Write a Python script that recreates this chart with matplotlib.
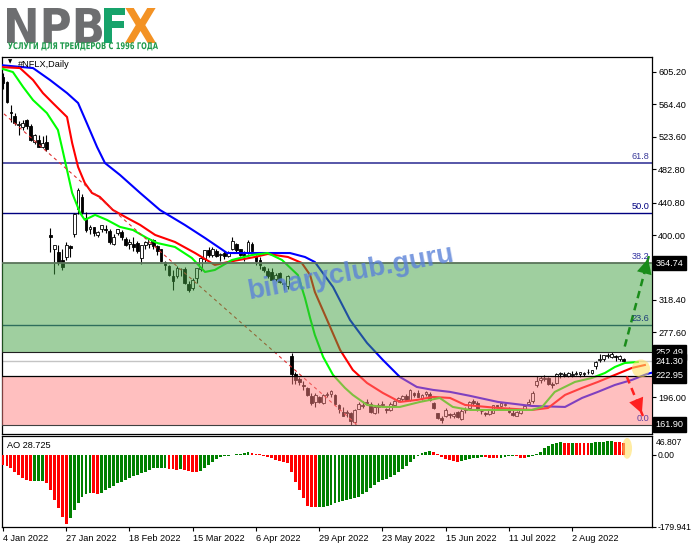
import numpy as np
import matplotlib
matplotlib.use("Agg")
import matplotlib.pyplot as plt
from matplotlib.patches import Ellipse, PathPatch, FancyArrowPatch
from matplotlib.textpath import TextPath
from matplotlib.font_manager import FontProperties
from matplotlib.transforms import Affine2D

W, H = 691, 549

# ---- data -------------------------------------------------------------
date_labels = ['4 Jan 2022', '27 Jan 2022', '18 Feb 2022', '15 Mar 2022', '6 Apr 2022',
               '29 Apr 2022', '23 May 2022', '15 Jun 2022', '11 Jul 2022', '2 Aug 2022']
date_pos = [0, 16, 32, 48, 64, 80, 96, 112, 128, 144]

opens = [599, 592, 555, 549, 538, 536, 544, 537, 517, 520, 511, 517, 400, 383, 379, 369, 372, 386, 401,
         433, 448, 421, 407, 410, 400, 408, 407, 405, 389, 402, 404, 395, 389, 389, 390, 371, 387, 389,
         394, 386, 382, 366, 361, 348, 349, 357, 357, 339, 334, 346, 357, 370, 381, 375, 380, 375, 377, 374, 382, 389, 382,
         376, 377, 389, 374, 369, 360, 355, 353, 345, 352, 340, 336, 248, 225, 219, 212, 208, 198, 190, 197,
         189, 199, 200, 199, 187, 178, 176, 176, 165, 182, 185, 189, 188, 176, 184, 187, 182, 180, 187, 193, 194,
         198, 193, 201, 202, 195, 200, 200, 189, 176, 170, 172, 175, 173, 178, 169, 180, 183, 191, 189, 179, 176,
         175, 177, 186, 185, 187, 183, 177, 173, 177, 182, 188, 191, 211, 218, 219, 220, 213, 214, 225, 224,
         223, 224, 226, 226, 225, 228, 227, 235, 243, 244, 248, 247, 247, 244, 244]
highs = [604, 593, 563, 553, 543, 544, 546, 539, 527, 526, 524, 526, 409, 387, 387, 382, 391, 388, 428,
         459, 452, 429, 412, 410, 405, 413, 413, 408, 401, 408, 406, 397, 395, 398, 392, 388, 392, 396,
         395, 388, 382, 368, 362, 356, 361, 359, 360, 342, 346, 359, 372, 381, 385, 385, 383, 378, 380, 380, 397, 390, 383,
         380, 394, 391, 375, 372, 361, 358, 358, 352, 353, 341, 350, 252, 228, 222, 216, 209, 202, 201, 198,
         200, 203, 205, 200, 188, 184, 180, 178, 181, 190, 191, 194, 190, 187, 189, 191, 183, 190, 193, 196, 199,
         200, 206, 203, 205, 200, 204, 203, 190, 177, 172, 183, 177, 178, 179, 181, 184, 191, 194, 192, 181, 178,
         181, 186, 187, 190, 190, 184, 180, 179, 182, 186, 194, 204, 223, 223, 224, 221, 215, 227, 228, 228,
         228, 229, 229, 228, 228, 232, 231, 242, 251, 249, 252, 253, 249, 249, 245]
lows = [583, 566, 542, 538, 526, 532, 533, 518, 514, 510, 509, 505, 379, 351, 362, 356, 369, 372, 398,
        426, 426, 404, 401, 399, 397, 404, 403, 389, 388, 400, 394, 386, 383, 380, 377, 363, 382, 384,
        383, 375, 366, 356, 349, 331, 346, 348, 339, 329, 331, 340, 355, 366, 372, 373, 372, 367, 370, 372, 381, 379, 374,
        368, 376, 379, 362, 357, 354, 346, 343, 342, 340, 331, 332, 213, 213, 212, 205, 198, 186, 184, 189,
        188, 196, 196, 186, 177, 172, 171, 161.9, 163, 181, 183, 186, 176, 175, 177, 184, 176, 179, 185, 190, 191,
        191, 192, 196, 196, 193, 198, 192, 182, 169, 164, 171, 170, 170, 170, 168, 176, 182, 187, 179, 175, 172,
        174, 176, 181, 184, 185, 176, 173, 172, 175, 180, 186, 189, 209, 214, 216, 212, 208, 213, 220, 221,
        221, 222, 224, 222, 223, 225, 225, 232, 240, 242, 245, 245, 242, 242, 239]
closes = [591, 567.5, 553, 541, 540, 541, 537, 519, 526, 511, 516, 508, 397.5, 387, 366, 360, 387, 384, 427,
          457, 429, 406, 410, 402, 403.5, 413, 406, 391, 397, 407.5, 398, 387, 391, 385, 380, 387, 391, 394.5,
          386, 380, 368, 362, 350, 342, 359, 357, 340, 331, 344, 358, 371, 381, 375, 383, 374, 376, 374, 378.5, 392, 381.5, 375,
          373.5, 391.5, 380, 368, 362, 356, 348, 344, 350, 341, 338, 348.6, 226, 218, 215.5, 210, 198.4, 188.5, 199.5, 190.4,
          199.5, 200, 204, 188, 181, 173, 177.5, 166.4, 180, 187.6, 186.5, 190.6, 177.2, 183.5, 186.4, 187.4, 180.3, 187.8, 191.4, 195.2, 197.4,
          192.9, 205, 199, 197, 198.6, 202.8, 192.8, 183, 169.7, 167.5, 180, 173.4, 175.5, 170.9, 178.9, 181.7, 190.8, 189.1, 179.6, 178.4, 174.9,
          180, 185.9, 184, 189.3, 187, 177.5, 174.5, 178.2, 181, 185.6, 190.4, 201.6, 216.4, 220.4, 219.2, 213.4, 211.4, 226, 226.5, 224.9,
          226.2, 224.8, 226.8, 227.5, 226.7, 227.3, 230, 241, 243, 249.3, 248.7, 250, 246.8, 247.6, 241.3]

# alligator lines (bar index, price)
jaw_x = [-0.8, 7.6, 11.9, 16.2, 19.0, 21.2, 23.8, 25.8, 29.6, 34.7, 39.7, 46.0, 51.1, 56.7, 63.7, 72.6,
         76.4, 78.9, 83.5, 87.8, 92.1, 96.1, 100.4, 104.7, 108.8, 113.1, 118.1, 125.2, 133.8, 142.2,
         146.5, 150.5, 154.8, 159.1, 162.9, 165.0]
jaw_y = [613.6, 609.8, 594.8, 578.4, 565.9, 540.7, 510.6, 490.5, 475.5, 452.9, 431.5, 412.7, 396.3, 377.4, 377.4, 377.4,
         372.4, 366.1, 334.7, 293.3, 264.4, 243.1, 221.7, 209.1, 205.4, 202.9, 198.0, 190.3, 185.2, 184.0,
         195.3, 202.9, 211.6, 217.9, 225.4, 228.0]
teeth_x = [-0.8, 4.3, 7.6, 10.1, 12.6, 16.2, 17.5, 19.0, 20.7, 22.5, 24.5, 27.8, 31.4, 34.7, 38.5, 43.5,
           48.6, 53.6, 56.9, 63.7, 67.0, 72.1, 75.6, 77.7, 78.9, 82.0, 85.3, 88.5, 92.1, 96.1, 100.4,
           104.7, 108.8, 113.1, 116.9, 125.2, 133.8, 137.9, 142.2, 146.5, 150.5, 154.8, 159.1, 162.4]
teeth_y = [611.1, 609.8, 594.8, 578.4, 565.9, 548.3, 515.6, 485.5, 465.4, 452.9, 447.9, 431.5, 421.5, 412.7, 400.1, 391.3,
           377.4, 362.4, 366.1, 372.4, 376.2, 372.4, 364.9, 349.8, 328.5, 293.3, 255.6, 230.5, 214.1, 201.6, 190.3,
           192.8, 196.6, 195.3, 186.5, 182.7, 180.2, 182.7, 199.1, 207.9, 215.4, 224.2, 233.0, 236.7]
lips_x = [-0.8, 2.5, 5.1, 7.6, 11.1, 13.9, 14.9, 16.2, 17.5, 19.5, 20.7, 23.3, 26.3, 29.6, 32.9, 36.4,
          39.0, 43.5, 47.8, 51.1, 53.6, 57.9, 63.0, 67.0, 70.6, 74.6, 76.4, 77.7, 78.9, 81.0, 83.5,
          86.5, 88.5, 92.1, 96.1, 100.4, 105.5, 110.5, 113.8, 118.1, 123.7, 129.5, 133.8, 136.4, 139.6,
          144.7, 149.0, 152.3, 154.8, 157.3, 160.6]
lips_y = [609.8, 604.8, 586.0, 569.6, 553.3, 532.0, 510.6, 481.8, 452.9, 427.8, 419.0, 425.3, 419.0, 410.2, 406.3, 396.3,
          390.0, 385.0, 371.1, 353.6, 356.1, 368.6, 374.9, 377.4, 368.6, 349.8, 320.9, 295.8, 274.5, 246.8, 224.2,
          208.0, 199.1, 186.5, 184.0, 184.0, 190.3, 195.3, 184.0, 180.2, 180.2, 180.2, 180.2, 184.0, 202.9,
          215.4, 220.4, 226.7, 234.2, 239.2, 240.5]

# Awesome Oscillator
ao = [-25, -27, -34, -42, -50, -58, -64, -66.5,
      -66, -65.5, -65,
      -71, -88, -112, -133, -154, -173,
      -158, -138, -121, -106, -97, -95,
      -96, -97,
      -94, -88, -82, -77, -71, -67, -62, -58, -54, -50, -46, -42, -37, -34, -33, -32.5, -32,
      -35, -36.5, -37,
      -36,
      -38, -40, -42, -43,
      -41, -33, -25, -17, -10, -6, -4, -3, -1, 1, 3, 5, 6,
      5, 3, 1, -2, -5, -8, -12, -16, -18, -21, -42, -67, -88, -108, -127, -130, -131,
      -130.5, -130, -128, -125, -121, -117, -114, -113, -111, -108, -104, -97.5, -91.7, -83, -75, -69, -64,
      -61, -56, -50, -44, -36, -29, -19, -11, -2, 5, 8, 9,
      6, 1, -5, -10, -14, -16, -17,
      -15, -13, -11, -9, -7, -5,
      -6, -7, -8, -8.5,
      -7, -5, -4, -3,
      -4, -7, -8,
      -6, -3, 3, 8, 17, 22, 27, 29, 31,
      30.5, 30,
      30.5,
      30, 29.5, 29, 28.5,
      29.5, 31, 32, 33, 34, 34.5,
      33, 31, 28.725]

price_ticks = [605.2, 564.4, 523.6, 482.8, 440.8, 400.0, 359.2, 318.4, 277.6, 236.8, 196.0, 155.2]
fib_levels = [61.8, 50.0, 38.2, 23.6, 0.0]
fib_prices = [490.1, 427.4, 364.74, 287.2, 161.9]
fib_diag_x = [-31.9, 89.5]
fib_diag_y = [692.9, 161.9]
green_zone = (252.49, 364.74)
red_zone = (161.9, 222.95)
marked_prices = [364.74, 252.49, 241.30, 222.95, 161.90]
arrow_up = [(157.3, 259.9), (163.4, 373.6)]
arrow_down = [(157.8, 222.3), (161.9, 172.6)]

# ---- figure -----------------------------------------------------------
plt.rcParams['font.family'] = ['Liberation Sans', 'DejaVu Sans']
fs = 6.6
fig = plt.figure(figsize=(W / 100, H / 100), dpi=100)
ax = fig.add_axes([2 / W, 1 - 434 / H, 650 / W, 377 / H])
ax2 = fig.add_axes([2 / W, 1 - 527 / H, 650 / W, 91 / H])

x = np.arange(len(closes))
o = np.array(opens, float)
hi = np.array(highs, float)
lo = np.array(lows, float)
c = np.array(closes, float)
up = c >= o

ax.vlines(x, lo, hi, color='black', lw=0.8, zorder=3)
body = np.maximum(np.abs(c - o), 0.8)
ax.bar(x, body, bottom=np.minimum(o, c), width=0.7,
       color=np.where(up, 'white', 'black'), edgecolor='black', lw=0.6, zorder=4)

ax.plot(jaw_x, jaw_y, color='#0000ff', lw=1.5, zorder=5)
ax.plot(teeth_x, teeth_y, color='#ff0000', lw=1.5, zorder=5)
ax.plot(lips_x, lips_y, color='#00ff00', lw=1.5, zorder=5)

# fibonacci
fib_colors = ['#3a3a9a', '#000080', '#3030a0', '#1c3c78', '#6040a0']
for lv, p, col in zip(fib_levels, fib_prices, fib_colors):
    if lv in (61.8, 50.0, 23.6):
        ax.axhline(p, color=col, lw=1.2 if lv == 61.8 else 1.0, zorder=2)
    ax.text(163.6, p + 2.5, '%.1f' % lv, color=col, fontsize=fs, ha='right', va='bottom', zorder=15)
ax.plot(fib_diag_x, fib_diag_y, color='#e03030', lw=0.8, ls=(0, (3, 3)), zorder=5)

# zones drawn over the chart
ax.axhspan(*green_zone, color='#41a141', alpha=0.5, lw=0, zorder=6)
ax.axhspan(*red_zone, color='#ff8181', alpha=0.5, lw=0, zorder=6)
ax.axhline(364.74, color='#5a745a', lw=1.3, zorder=7)
ax.axhline(252.49, color='#202020', lw=0.8, zorder=7)
ax.axhline(241.30, color='#c4c4c4', lw=1.0, zorder=2)
ax.axhline(222.95, color='black', lw=0.9, zorder=7)
ax.axhline(161.90, color='#404040', lw=0.8, zorder=7)

ax.text(88, 352, 'binaryclub.guru', rotation=10.5, fontsize=20, fontweight='bold',
        color='#5a82d8', alpha=0.8, ha='center', va='center', zorder=10)

# arrows
for (p0, p1), col in [(arrow_up, '#1a8c1a'), (arrow_down, '#ff2020')]:
    ax.plot([p0[0], p1[0]], [p0[1], p1[1]], color=col, lw=1.8, ls=(0, (3, 2)), zorder=12)
    frac = 11.0 / np.hypot((p1[0] - p0[0]) * 3.953, (p1[1] - p0[1]) * 0.796)
    base = (p1[0] - frac * (p1[0] - p0[0]), p1[1] - frac * (p1[1] - p0[1]))
    ax.add_patch(FancyArrowPatch(base, p1, arrowstyle='-|>,head_length=0.9,head_width=0.45',
                                 mutation_scale=12, color=col, lw=0, zorder=13))

ax.add_patch(Ellipse((161.4, 232.3), 4.6, 22.6, color='#ffe066', alpha=0.6, lw=0, zorder=11))

ax.set_xlim(-0.25, 164.2)
ax.set_ylim(150.0, 623.7)
ax.set_xticks([])
ax.yaxis.tick_right()
ax.set_yticks(price_ticks)
ax.set_yticklabels(['%.2f' % p for p in price_ticks])
ax.tick_params(axis='y', direction='out', length=3, width=0.8, pad=1.5, labelsize=fs)
for p in marked_prices:
    ax.annotate('%.2f' % p, xy=(1, p), xycoords=('axes fraction', 'data'), xytext=(2.4, 0),
                textcoords='offset points', ha='left', va='center', color='white', fontsize=fs,
                bbox=dict(boxstyle='square,pad=0.3', fc='black', ec='black'),
                annotation_clip=False, zorder=20)

# AO panel
ao_arr = np.array(ao)
rising = np.diff(ao_arr, prepend=ao_arr[0] + 1) > 0
ax2.bar(x, ao_arr, width=0.72, color=np.where(rising, '#008000', '#ff0000'), lw=0, zorder=3)
ax2.add_patch(Ellipse((157.9, 16), 2.5, 52, color='#ffe066', alpha=0.6, lw=0, zorder=5))
ax2.set_xlim(-0.25, 164.2)
ax2.set_ylim(-179.941, 46.807)
ax2.yaxis.tick_right()
ax2.set_yticks([0, -179.941])
ax2.set_yticklabels(['0.00', '-179.941'])
ax2.tick_params(axis='y', direction='out', length=3, width=0.8, pad=0.8, labelsize=6.2)
ax2.annotate('46.807', xy=(1, 1), xycoords='axes fraction', xytext=(2.8, -5),
             textcoords='offset points', ha='left', va='center', fontsize=6.2, annotation_clip=False)
ax2.set_xticks(date_pos)
ax2.set_xticklabels(date_labels, ha='left')
ax2.tick_params(axis='x', direction='out', length=3, width=0.8, pad=2, labelsize=fs)
ax2.text(0.008, 0.9, 'AO 28.725', transform=ax2.transAxes, fontsize=fs, ha='left', va='center')

for a in (ax, ax2):
    for s in a.spines.values():
        s.set_linewidth(0.9)
        s.set_color('black')

# overlay for logo and header text (pixel coords)
ov = fig.add_axes([0, 0, 1, 1])
ov.set_xlim(0, W)
ov.set_ylim(H, 0)
ov.axis('off')


def fit_text(s, x0, y0, x1, y1, color):
    tp = TextPath((0, 0), s, size=10, prop=FontProperties(family='DejaVu Sans', weight='bold'))
    e = tp.get_extents()
    tr = (Affine2D().translate(-e.x0, -e.y1)
          .scale((x1 - x0) / e.width, -(y1 - y0) / e.height).translate(x0, y0))
    ov.add_patch(PathPatch(tr.transform_path(tp), color=color, lw=0))


fit_text('NPB', 7, 8, 102, 43, '#6d6e70')
fit_text('F', 104, 8, 125, 43, '#17a36b')
fit_text('X', 125, 8, 156, 43, '#f39224')
fit_text('УСЛУГИ ДЛЯ ТРЕЙДЕРОВ С 1996 ГОДА', 8, 40.5, 158, 50.5, '#1f9a4c')

ov.text(10, 62, '▼', fontsize=4, ha='center', va='center', color='black', family='DejaVu Sans')
ov.text(18, 64.5, '#NFLX,Daily', fontsize=fs, ha='left', va='center', color='black')

fig.savefig('out.png', dpi=100)
